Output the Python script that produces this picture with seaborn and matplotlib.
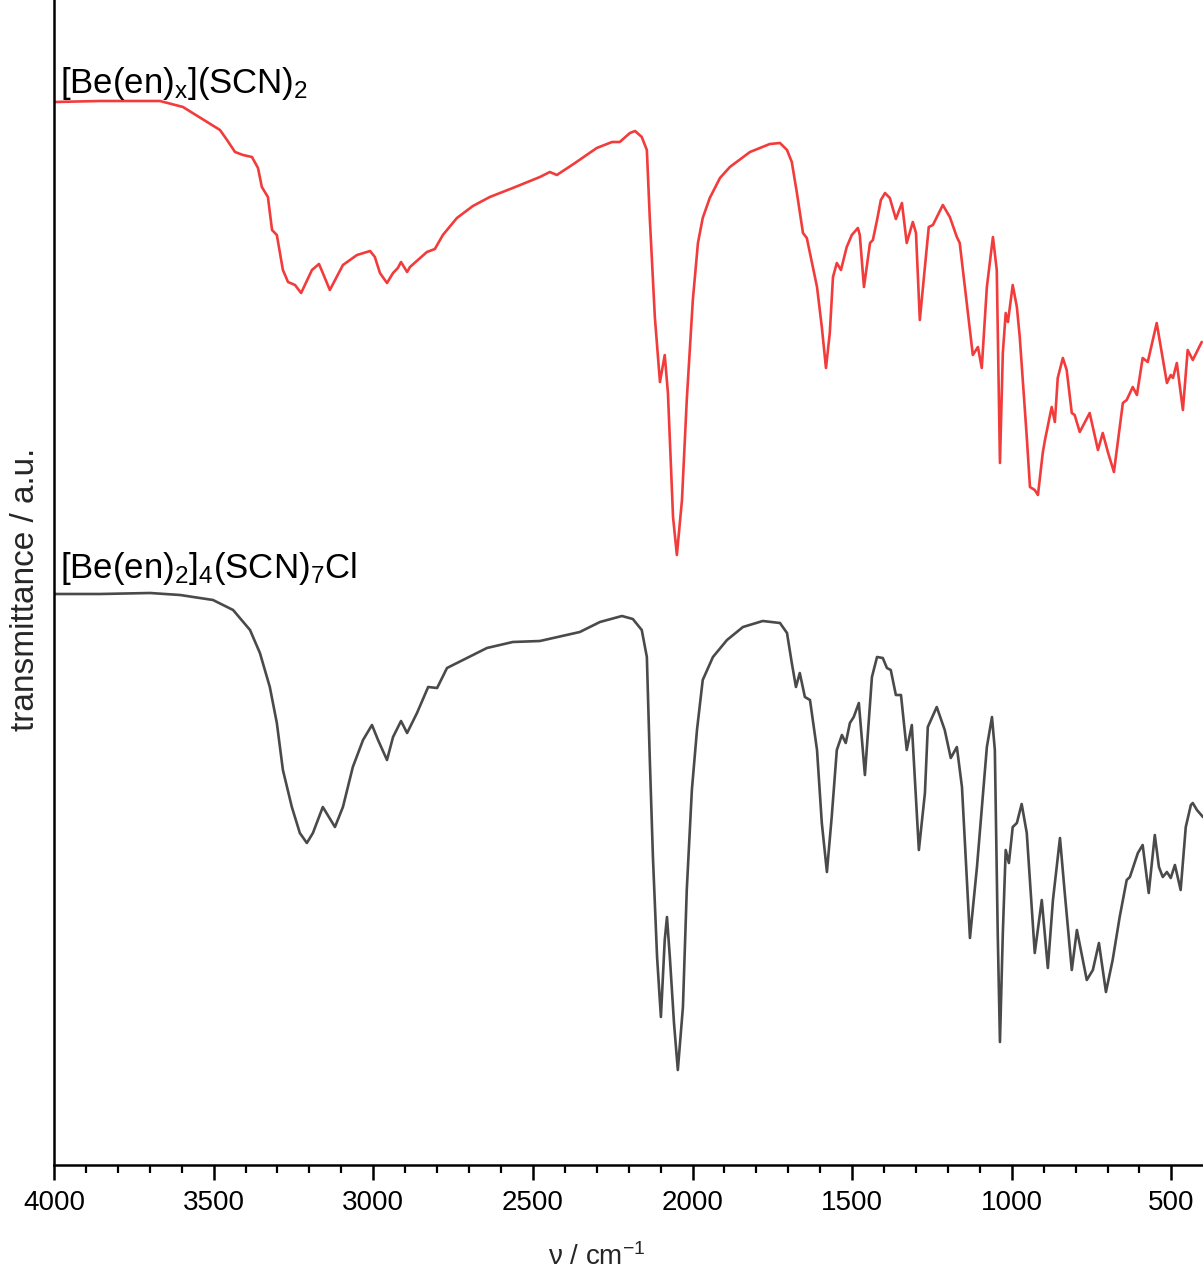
import numpy as np
import pandas as pd
import matplotlib
matplotlib.use("Agg")
import matplotlib.pyplot as plt
import seaborn as sns

# ---- data (wavenumber / cm-1, transmittance in a.u.) ----
red_nu = [4000, 3856, 3668, 3596, 3480, 3458, 3433, 3408, 3380, 3361, 3349, 3330, 3317, 3302,
          3283, 3267, 3245, 3226, 3192, 3170, 3158, 3136, 3095, 3051, 3010, 2995, 2979, 2957,
          2938, 2923, 2913, 2894, 2885, 2832, 2807, 2782, 2738, 2688, 2635, 2563, 2478, 2447,
          2425, 2368, 2300, 2252, 2228, 2196, 2180, 2159, 2143, 2134, 2118, 2102, 2087, 2077,
          2061, 2049, 2033, 2018, 1999, 1983, 1968, 1946, 1914, 1883, 1820, 1758, 1726, 1704,
          1689, 1673, 1654, 1642, 1623, 1610, 1595, 1582, 1570, 1560, 1548, 1535, 1517, 1501,
          1482, 1476, 1463, 1444, 1435, 1422, 1410, 1397, 1382, 1363, 1344, 1329, 1310, 1300,
          1288, 1275, 1260, 1247, 1216, 1194, 1172, 1163, 1153, 1141, 1122, 1106, 1094, 1078,
          1059, 1047, 1037, 1028, 1019, 1012, 997, 984, 975, 953, 943, 928, 918, 903, 896, 875,
          865, 856, 840, 828, 812, 803, 787, 756, 730, 715, 699, 680, 652, 640, 621, 608, 590,
          574, 546, 530, 514, 502, 495, 483, 464, 449, 433, 405]
red_T = [1063, 1064, 1064, 1058, 1035, 1025, 1013, 1010, 1008, 997, 978, 968, 935, 930,
         895, 883, 880, 872, 895, 901, 892, 875, 900, 910, 914, 908, 892, 882,
         892, 897, 903, 893, 898, 913, 916, 930, 947, 959, 968, 977, 988, 993,
         990, 1002, 1017, 1023, 1023, 1032, 1034, 1028, 1015, 948, 848, 783, 810, 772,
         648, 610, 665, 765, 865, 922, 947, 967, 987, 998, 1013, 1021, 1022, 1015,
         1003, 972, 932, 927, 898, 878, 838, 797, 832, 888, 902, 895, 918, 930,
         937, 930, 878, 922, 925, 945, 965, 972, 967, 946, 962, 922, 943, 932,
         845, 888, 938, 940, 960, 948, 928, 922, 895, 862, 810, 818, 797, 878,
         928, 895, 702, 812, 852, 843, 880, 858, 828, 728, 678, 675, 670, 712, 725, 758,
         743, 787, 807, 795, 752, 750, 733, 752, 715, 732, 713, 693, 762, 765, 778, 770, 807,
         803, 842, 812, 782, 790, 787, 802, 755, 815, 805, 823]

gray_nu = [4000, 3856, 3699, 3605, 3502, 3439, 3386, 3355, 3324, 3302, 3283, 3255, 3230, 3208,
           3189, 3158, 3120, 3095, 3064, 3032, 3004, 2985, 2957, 2938, 2913, 2894, 2863, 2828,
           2800, 2769, 2719, 2644, 2563, 2478, 2353, 2290, 2221, 2187, 2159, 2143, 2134, 2124,
           2111, 2099, 2087, 2080, 2071, 2058, 2046, 2030, 2018, 2002, 1986, 1968, 1936, 1892,
           1842, 1780, 1726, 1704, 1689, 1676, 1664, 1648, 1632, 1610, 1595, 1579, 1564, 1548,
           1532, 1520, 1507, 1495, 1479, 1460, 1438, 1422, 1404, 1391, 1379, 1363, 1347, 1329,
           1313, 1291, 1272, 1263, 1235, 1210, 1191, 1172, 1156, 1131, 1109, 1078, 1062, 1053,
           1044, 1037, 1028, 1019, 1009, 997, 984, 969, 953, 928, 906, 887, 871, 849, 834, 812,
           796, 765, 746, 727, 705, 684, 662, 640, 630, 605, 590, 571, 552, 539, 527, 514, 502,
           489, 471, 455, 439, 433, 420, 401]
gray_T = [571, 571, 572, 570, 565, 555, 535, 512, 478, 442, 395, 358, 332, 322,
          332, 358, 338, 358, 398, 425, 440, 425, 405, 428, 444, 432, 452, 478,
          477, 497, 505, 517, 523, 524, 533, 543, 549, 546, 535, 508, 408, 308,
          208, 148, 225, 248, 208, 142, 95, 158, 275, 375, 435, 485, 508, 525,
          538, 544, 542, 532, 502, 478, 492, 468, 465, 415, 342, 293, 348, 415,
          430, 422, 442, 448, 462, 390, 488, 508, 507, 497, 495, 470, 470, 415,
          440, 315, 372, 438, 458, 435, 407, 418, 378, 227, 298, 418, 448, 415,
          232, 123, 232, 315, 302, 338, 342, 361, 332, 212, 265, 197, 265, 327, 272, 195,
          235, 185, 195, 222, 173, 205, 248, 285, 288, 312, 320, 272, 330, 298, 288, 293, 287,
          300, 275, 338, 360, 362, 355, 348]

series_names = ["[Be(en)x](SCN)2", "[Be(en)2]4(SCN)7Cl"]
label_red = r"[Be(en)$_{\mathregular{x}}$](SCN)$_{\mathregular{2}}$"
label_gray = r"[Be(en)$_{\mathregular{2}}$]$_{\mathregular{4}}$(SCN)$_{\mathregular{7}}$Cl"
x_ticks = [4000, 3500, 3000, 2500, 2000, 1500, 1000, 500]

df = pd.concat([
    pd.DataFrame({"nu": red_nu, "T": red_T, "sample": series_names[0]}),
    pd.DataFrame({"nu": gray_nu, "T": gray_T, "sample": series_names[1]}),
])

sns.set_theme(style="white")
plt.rcParams["font.family"] = ["Liberation Sans", "DejaVu Sans"]
plt.rcParams["mathtext.fontset"] = "custom"
plt.rcParams["mathtext.rm"] = "Liberation Sans"
plt.rcParams["mathtext.it"] = "Liberation Sans:italic"
plt.rcParams["mathtext.default"] = "regular"

fig = plt.figure(figsize=(12.03, 12.73), dpi=100)
ax = fig.add_axes([54 / 1203, 108 / 1273, 1 - 54 / 1203, 1 - 108 / 1273])

sns.lineplot(data=df, x="nu", y="T", hue="sample",
             palette={series_names[0]: "#F23C3C", series_names[1]: "#4A4A4A"},
             estimator=None, sort=False, linewidth=1.9, legend=False, ax=ax)

ax.set_xlim(4000, 401)
ax.set_ylim(0, 1165)
ax.set_xticks(x_ticks)
ax.set_xticks(np.arange(4000, 400, -100), minor=True)
ax.set_yticks([])
for s in ["top", "right"]:
    ax.spines[s].set_visible(False)
for s in ["left", "bottom"]:
    ax.spines[s].set_color("black")
    ax.spines[s].set_linewidth(1.8)
ax.tick_params(axis="x", which="major", direction="out", length=11, width=1.8,
               labelsize=20, pad=7, bottom=True, colors="black")
ax.tick_params(axis="x", which="minor", direction="out", length=6, width=1.6,
               bottom=True, colors="black")
ax.set_xlabel(r"ν / cm$^{\mathregular{-1}}$", fontsize=20)
ax.xaxis.set_label_coords(0.4726, -0.067)
ax.set_ylabel("transmittance / a.u.", fontsize=24)
ax.yaxis.set_label_coords(-0.011, 0.494)

ax.text(3982, 1072, label_red, fontsize=25, color="black", va="baseline", ha="left")
ax.text(3982, 587, label_gray, fontsize=25, color="black", va="baseline", ha="left")

fig.savefig("out.png", dpi=100)
